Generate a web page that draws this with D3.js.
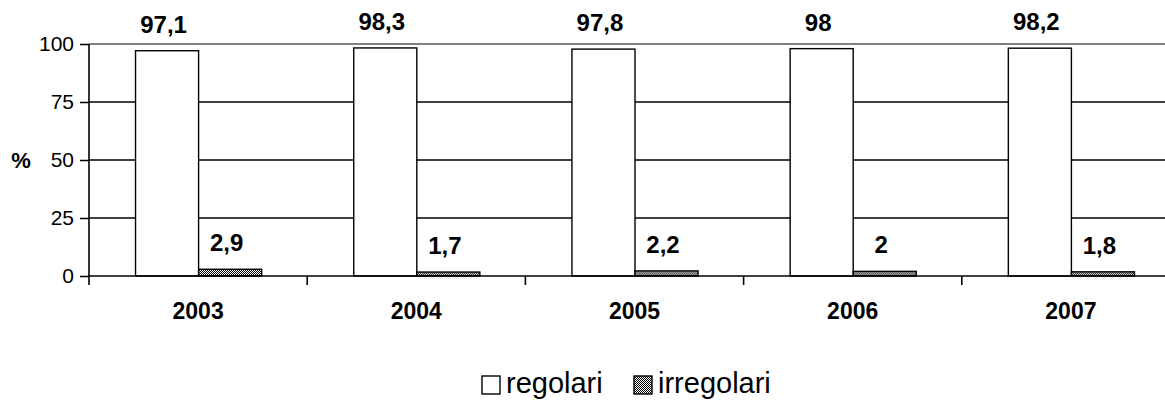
<!DOCTYPE html>
<html>
<head>
<meta charset="utf-8">
<script src="https://cdn.jsdelivr.net/npm/d3@7"></script>
<style>
  html, body { margin: 0; padding: 0; background: #fff; }
  svg { display: block; font-family: Arial, "Liberation Sans", sans-serif; }
</style>
</head>
<body>
<svg id="chart" width="1165" height="401"></svg>
<script>
const categories = ["2003", "2004", "2005", "2006", "2007"];
const seriesNames = ["regolari", "irregolari"];
const regolari = [97.1, 98.3, 97.8, 98, 98.2];
const irregolari = [2.9, 1.7, 2.2, 2, 1.8];
const yTicks = [0, 25, 50, 75, 100];

(function () {
const FONT = "Arial, 'Liberation Sans', sans-serif";
const svg = d3.select("#chart");
const defs = svg.append("defs");
const pat = defs.append("pattern").attr("id", "dots")
  .attr("patternUnits", "userSpaceOnUse").attr("width", 2).attr("height", 2);
pat.append("rect").attr("width", 2).attr("height", 2).attr("fill", "#fff");
pat.append("rect").attr("x", 0).attr("y", 0).attr("width", 1).attr("height", 1).attr("fill", "#000");
pat.append("rect").attr("x", 1).attr("y", 1).attr("width", 1).attr("height", 1).attr("fill", "#000");

const fills = { regolari: "#ffffff", irregolari: "url(#dots)" };

const pLeft = 89, pRight = 1180, pTop = 44, pBottom = 276;
const x0 = d3.scaleBand().domain(categories).range([pLeft, pRight]).paddingInner(0).paddingOuter(0);
const bw = x0.bandwidth();
const x1 = d3.scaleBand().domain(seriesNames).range([bw * 0.211, bw * 0.789]).padding(0);
const y = d3.scaleLinear().domain([0, 100]).range([pBottom, pTop]);

// gridlines
svg.append("g").selectAll("line").data(yTicks.filter(t => t > 0 && t < 100)).join("line")
  .attr("x1", pLeft).attr("x2", 1165).attr("y1", d => y(d)).attr("y2", d => y(d))
  .attr("stroke", "#000").attr("stroke-width", 1.5);
// top border
svg.append("line").attr("x1", pLeft).attr("x2", 1165).attr("y1", y(100)).attr("y2", y(100))
  .attr("stroke", "#808080").attr("stroke-width", 1.8);

// bars
const data = categories.map((c, i) => ({ cat: c, values: [
  { key: "regolari", v: regolari[i] }, { key: "irregolari", v: irregolari[i] }] }));

const groups = svg.append("g").selectAll("g").data(data).join("g")
  .attr("transform", d => `translate(${x0(d.cat)},0)`);
groups.selectAll("rect").data(d => d.values).join("rect")
  .attr("x", d => x1(d.key) + 0.5)
  .attr("y", d => y(d.v))
  .attr("width", x1.bandwidth())
  .attr("height", d => y(0) - y(d.v))
  .attr("fill", d => fills[d.key])
  .attr("stroke", "#000").attr("stroke-width", 1.4);
groups.selectAll("text").data(d => d.values).join("text")
  .attr("x", d => x1(d.key) + x1.bandwidth() / 2 - 3)
  .attr("y", d => y(d.v) - 18)
  .attr("text-anchor", "middle")
  .attr("font-size", "24px").attr("font-weight", "bold")
  .text(d => String(d.v).replace(".", ","));

// y axis
const yAxis = d3.axisLeft(y).tickValues(yTicks).tickSize(9).tickPadding(6);
const gy = svg.append("g").attr("transform", `translate(${pLeft},0)`).call(yAxis);
gy.select(".domain").remove();
gy.selectAll(".tick line").attr("stroke", "#000").attr("stroke-width", 1.5);
gy.selectAll(".tick text").attr("font-size", "21px").attr("fill", "#000")
  .attr("font-family", FONT);
svg.append("line").attr("x1", pLeft).attr("x2", pLeft).attr("y1", pTop).attr("y2", pBottom + 9)
  .attr("stroke", "#000").attr("stroke-width", 1.6);

// x axis
svg.append("line").attr("x1", pLeft).attr("x2", 1165).attr("y1", pBottom).attr("y2", pBottom)
  .attr("stroke", "#000").attr("stroke-width", 1.6);
const xAxis = d3.axisBottom(x0).tickSize(0).tickPadding(27);
const gx = svg.append("g").attr("transform", `translate(0,${pBottom})`).call(xAxis);
gx.select(".domain").remove();
gx.selectAll(".tick text").attr("font-size", "23px").attr("font-weight", "bold").attr("fill", "#000")
  .attr("font-family", FONT);
// category separator ticks
svg.append("g").selectAll("line").data(categories.slice(1)).join("line")
  .attr("x1", d => x0(d)).attr("x2", d => x0(d)).attr("y1", pBottom).attr("y2", pBottom + 9)
  .attr("stroke", "#000").attr("stroke-width", 1.6);

// y label
svg.append("text").attr("x", 21).attr("y", y(50) + 8).attr("text-anchor", "middle")
  .attr("font-size", "22px").attr("font-weight", "bold").text("%");

// legend
const legend = svg.append("g");
const legItems = [{ key: "regolari", x: 482 }, { key: "irregolari", x: 634 }];
legItems.forEach(it => {
  legend.append("rect").attr("x", it.x).attr("y", 376).attr("width", 18).attr("height", 18)
    .attr("fill", fills[it.key]).attr("stroke", "#000").attr("stroke-width", 1.4);
  legend.append("text").attr("x", it.x + 24).attr("y", 393)
    .attr("font-size", "29px").text(it.key);
});
})();
</script>
</body>
</html>
